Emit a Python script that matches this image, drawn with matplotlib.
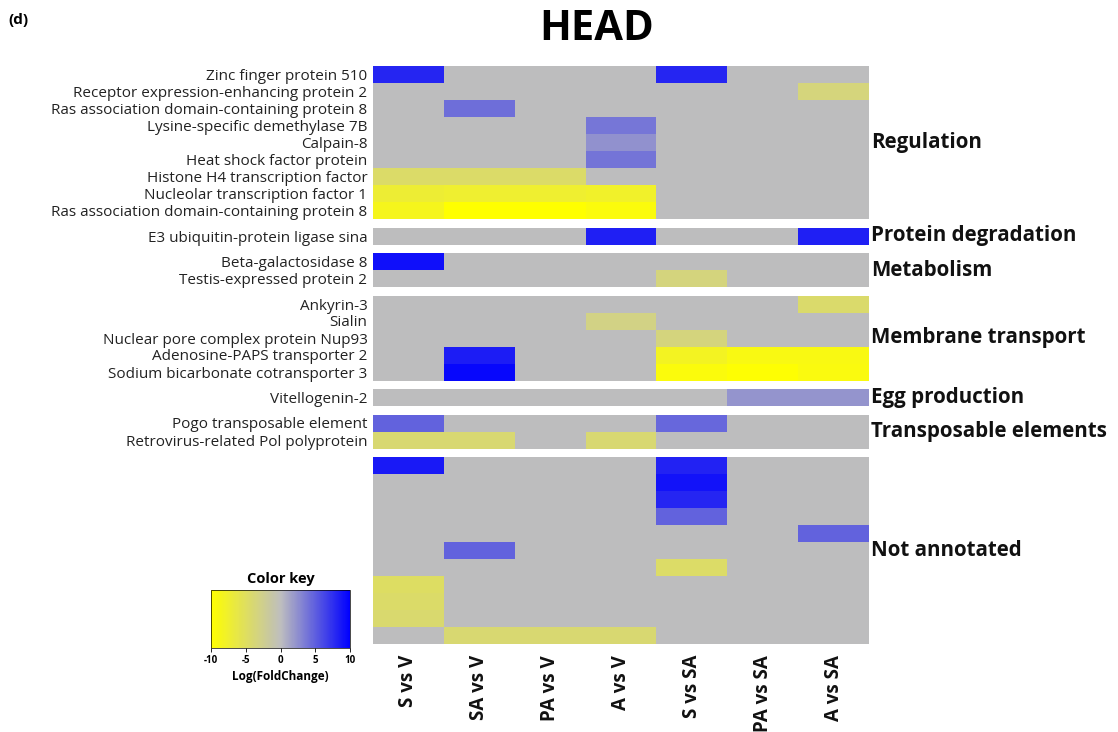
import numpy as np
import matplotlib
matplotlib.use("Agg")
import matplotlib.pyplot as plt
from matplotlib.colors import LinearSegmentedColormap, Normalize
from matplotlib.cm import ScalarMappable

plt.rcParams['font.family'] = ['Open Sans', 'DejaVu Sans']
plt.rcParams['axes.unicode_minus'] = False

# ---------------- data ----------------
comparisons = ["S vs V", "SA vs V", "PA vs V", "A vs V", "S vs SA", "PA vs SA", "A vs SA"]

categories = ["Regulation", "Protein degradation", "Metabolism", "Membrane transport",
              "Egg production", "Transposable elements", "Not annotated"]

regulation_genes = ["Zinc finger protein 510", "Receptor expression-enhancing protein 2",
                    "Ras association domain-containing protein 8", "Lysine-specific demethylase 7B",
                    "Calpain-8", "Heat shock factor protein", "Histone H4 transcription factor",
                    "Nucleolar transcription factor 1", "Ras association domain-containing protein 8"]
regulation_vals = [
    [8.0, 0, 0, 0, 8.0, 0, 0],
    [0, 0, 0, 0, 0, 0, -3.5],
    [0, 4.2, 0, 0, 0, 0, 0],
    [0, 0, 0, 3.8, 0, 0, 0],
    [0, 0, 0, 2.4, 0, 0, 0],
    [0, 0, 0, 3.9, 0, 0, 0],
    [-4.5, -4.5, -4.5, 0, 0, 0, 0],
    [-7.2, -7.5, -7.5, -7.8, 0, 0, 0],
    [-8.5, -10.0, -10.0, -9.3, 0, 0, 0],
]

degradation_genes = ["E3 ubiquitin-protein ligase sina"]
degradation_vals = [[0, 0, 0, 8.3, 0, 0, 8.3]]

metabolism_genes = ["Beta-galactosidase 8", "Testis-expressed protein 2"]
metabolism_vals = [
    [9.2, 0, 0, 0, 0, 0, 0],
    [0, 0, 0, 0, -3.4, 0, 0],
]

membrane_genes = ["Ankyrin-3", "Sialin", "Nuclear pore complex protein Nup93",
                  "Adenosine-PAPS transporter 2", "Sodium bicarbonate cotransporter 3"]
membrane_vals = [
    [0, 0, 0, 0, 0, 0, -4.3],
    [0, 0, 0, -3.0, 0, 0, 0],
    [0, 0, 0, 0, -3.4, 0, 0],
    [0, 8.5, 0, 0, -8.2, -9.0, -9.0],
    [0, 9.6, 0, 0, -9.3, -9.8, -9.2],
]

egg_genes = ["Vitellogenin-2"]
egg_vals = [[0, 0, 0, 0, 0, 2.2, 2.2]]

transposable_genes = ["Pogo transposable element", "Retrovirus-related Pol polyprotein"]
transposable_vals = [
    [4.8, 0, 0, 0, 4.6, 0, 0],
    [-4.0, -4.0, 0, -4.0, 0, 0, 0],
]

unannotated_genes = [""] * 11
unannotated_vals = [
    [8.6, 0, 0, 0, 8.2, 0, 0],
    [0, 0, 0, 0, 9.0, 0, 0],
    [0, 0, 0, 0, 8.0, 0, 0],
    [0, 0, 0, 0, 4.8, 0, 0],
    [0, 0, 0, 0, 0, 0, 4.8],
    [0, 4.8, 0, 0, 0, 0, 0],
    [0, 0, 0, 0, -4.6, 0, 0],
    [-4.8, 0, 0, 0, 0, 0, 0],
    [-4.5, 0, 0, 0, 0, 0, 0],
    [-4.2, 0, 0, 0, 0, 0, 0],
    [0, -4.0, -4.0, -4.0, 0, 0, 0],
]

block_genes = [regulation_genes, degradation_genes, metabolism_genes, membrane_genes,
               egg_genes, transposable_genes, unannotated_genes]
block_vals = [regulation_vals, degradation_vals, metabolism_vals, membrane_vals,
              egg_vals, transposable_vals, unannotated_vals]

# ---------------- figure ----------------
fig = plt.figure(figsize=(11.18, 7.32), dpi=100)
W, H = 1118, 732

def fig_rect(x0, y0, x1, y1):
    return [x0 / W, 1 - y1 / H, (x1 - x0) / W, (y1 - y0) / H]

cmap = LinearSegmentedColormap.from_list("yg_b", ["#ffff00", "#bebebe", "#0000ff"])
norm = Normalize(vmin=-10, vmax=10)

ax = fig.add_axes(fig_rect(373, 66, 869, 644))
gap = 0.5
y = 0.0
tick_pos, tick_lab = [], []
for cat, genes, vals in zip(categories, block_genes, block_vals):
    vals = np.array(vals, dtype=float)
    n = len(genes)
    xe = np.arange(len(comparisons) + 1)
    ye = y + np.arange(n + 1)
    ax.pcolormesh(xe, ye, vals, cmap=cmap, norm=norm, shading="flat", edgecolors="none")
    for i, g in enumerate(genes):
        tick_pos.append(y + i + 0.5)
        tick_lab.append(g)
    ax.text(len(comparisons) + 0.03, y + n / 2, cat, ha="left", va="center",
            fontsize=14.8, fontweight="bold", color="#111111")
    y += n + gap
total = y - gap
ax.set_xlim(0, len(comparisons))
ax.set_ylim(total, 0)
ax.set_yticks(tick_pos)
ax.set_yticklabels(tick_lab, fontsize=11, color="#222222")
ax.set_xticks(np.arange(len(comparisons)) + 0.5)
ax.set_xticklabels(comparisons, rotation=90, fontsize=13.5, fontweight="bold",
                   ha="center", va="top", color="#111111")
ax.tick_params(axis="both", length=0, pad=4)
ax.tick_params(axis="x", pad=8)
for s in ax.spines.values():
    s.set_visible(False)

fig.text(597 / W, 1 - 29 / H, "HEAD", ha="center", va="center", fontsize=30, fontweight="bold")
fig.text(8 / W, 1 - 20 / H, "(d)", ha="left", va="center", fontsize=11, fontweight="bold")

# color key
cax = fig.add_axes(fig_rect(211, 590, 350, 648))
sm = ScalarMappable(norm=norm, cmap=cmap)
cb = fig.colorbar(sm, cax=cax, orientation="horizontal", ticks=[-10, -5, 0, 5, 10])
cb.outline.set_linewidth(0.5)
cax.tick_params(labelsize=7, length=3, width=0.6, pad=2)
for t in cax.get_xticklabels():
    t.set_fontweight("bold")
cax.set_title("Color key", fontsize=10.5, fontweight="bold", pad=5)
cax.set_xlabel("Log(FoldChange)", fontsize=8.5, fontweight="bold", labelpad=3)

fig.savefig("out.png", dpi=100)
